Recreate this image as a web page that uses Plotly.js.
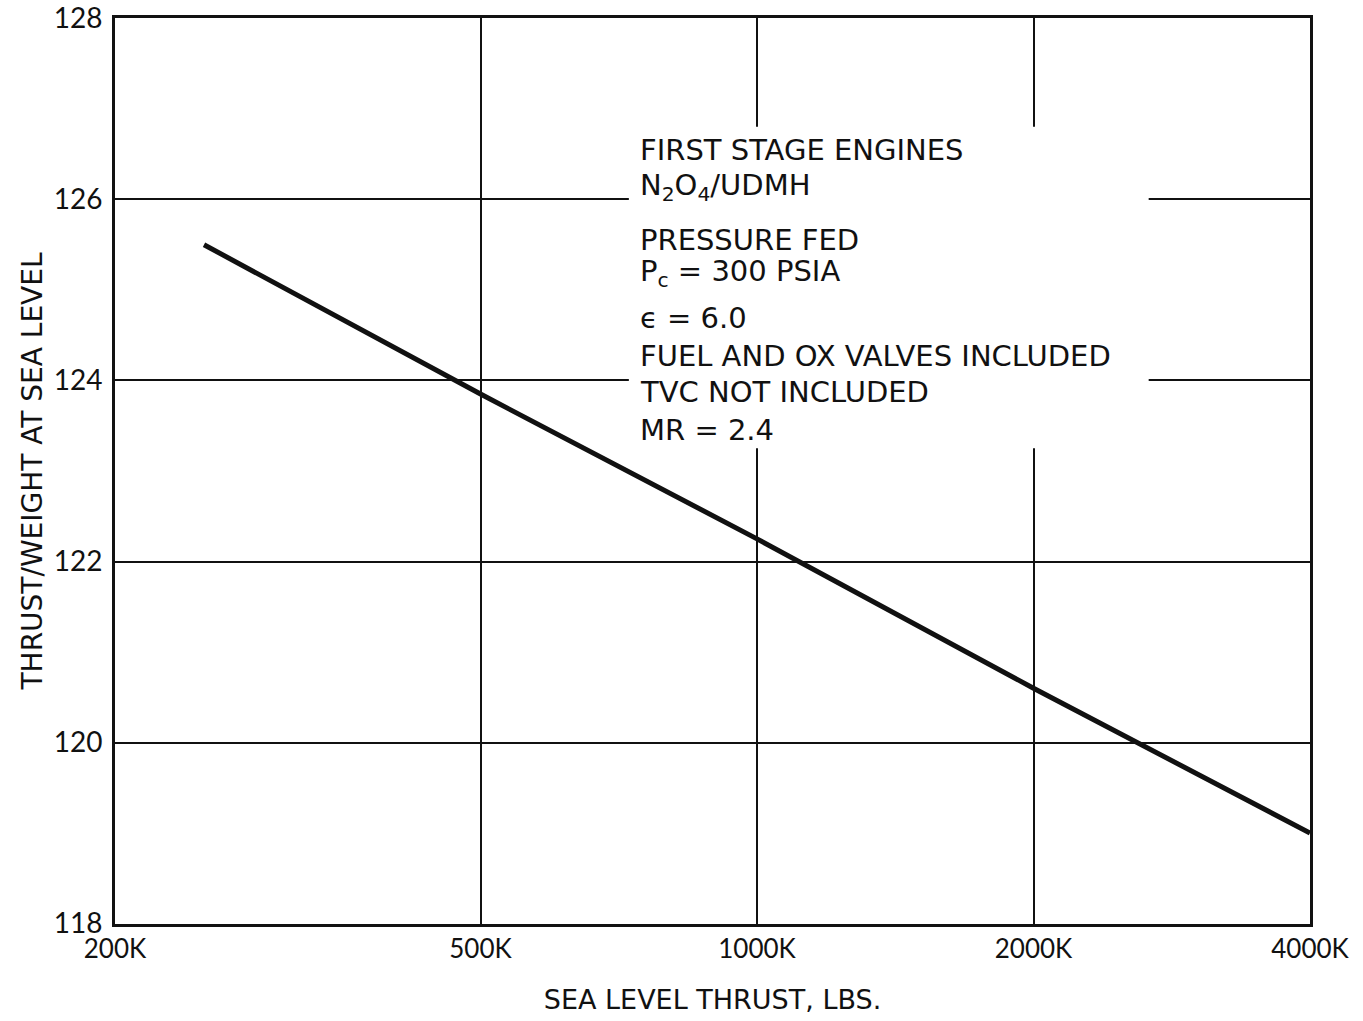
<!DOCTYPE html>
<html>
<head>
<meta charset="utf-8">
<script src="https://cdn.plot.ly/plotly-3.0.1.min.js"></script>
<style>html,body{margin:0;padding:0;background:#fff;}#chart{width:1363px;height:1021px;}</style>
</head>
<body>
<div id="chart"></div>
<script>
// Data (sea level thrust in thousands of lbs)
const thrustK = [250, 500, 1000, 2000, 4000];
const thrustToWeight = [125.5, 123.85, 122.25, 120.6, 119.0];

const xTickVals = [200, 500, 1000, 2000, 4000];
const xTickText = ['200K', '500K', '1000K', '2000K', '4000K'];
const yTickVals = [118, 120, 122, 124, 126, 128];
const yTickText = ['118', '120', '122', '124', '126', '128'];

const noteLines = [
  'FIRST STAGE ENGINES',
  'N<sub>2</sub>O<sub>4</sub>/UDMH',
  'PRESSURE FED',
  'P<sub>c</sub> = 300 PSIA',
  '\u03f5 = 6.0',
  'FUEL AND OX VALVES INCLUDED',
  'TVC NOT INCLUDED',
  'MR = 2.4'
];
const noteY = [0.854, 0.813, 0.755, 0.718, 0.669, 0.627, 0.587, 0.545];

const TICKFONT = 'Lato, "Open Sans", sans-serif';
const TEXTFONT = '"DejaVu Sans", sans-serif';

const trace = {
  x: thrustK,
  y: thrustToWeight,
  type: 'scatter',
  mode: 'lines',
  line: {color: '#111', width: 5},
  hoverinfo: 'skip'
};

const annotations = noteLines.map((t, i) => ({
  text: t,
  xref: 'paper', yref: 'paper',
  x: 0.438, y: noteY[i],
  xanchor: 'left', yanchor: 'middle',
  showarrow: false,
  font: {family: TEXTFONT, size: 29, color: '#111'}
}));

const layout = {
  width: 1363, height: 1021,
  margin: {l: 115, r: 53, t: 18, b: 97},
  paper_bgcolor: '#fff',
  plot_bgcolor: '#fff',
  showlegend: false,
  font: {family: TICKFONT, color: '#111'},
  xaxis: {
    type: 'log',
    range: [Math.log10(200), Math.log10(4000)],
    tickmode: 'array',
    tickvals: xTickVals,
    ticktext: xTickText,
    ticks: '',
    ticklabeloverflow: 'allow',
    showgrid: true,
    gridcolor: '#111',
    gridwidth: 2,
    showline: true,
    linecolor: '#111',
    linewidth: 3,
    mirror: true,
    zeroline: false,
    tickfont: {family: TICKFONT, size: 26, color: '#111'},
    title: {text: 'SEA LEVEL THRUST, LBS.', font: {family: TEXTFONT, size: 27, color: '#111'}, standoff: 27},
    automargin: false
  },
  yaxis: {
    range: [117.995, 128.005],
    tickmode: 'array',
    tickvals: yTickVals,
    ticktext: yTickText,
    ticks: '',
    ticklabelstandoff: 4,
    ticklabeloverflow: 'allow',
    showgrid: true,
    gridcolor: '#111',
    gridwidth: 2,
    showline: true,
    linecolor: '#111',
    linewidth: 3,
    mirror: true,
    zeroline: false,
    tickfont: {family: TICKFONT, size: 28, color: '#111'},
    title: {text: 'THRUST/WEIGHT AT SEA LEVEL', font: {family: TEXTFONT, size: 28, color: '#111'}, standoff: 3},
    automargin: false
  },
  shapes: [{
    type: 'rect', xref: 'paper', yref: 'paper',
    x0: 0.43, x1: 0.865, y0: 0.525, y1: 0.88,
    fillcolor: '#fff', line: {width: 0}, layer: 'above'
  }],
  annotations: annotations
};

Plotly.newPlot('chart', [trace], layout, {displayModeBar: false, staticPlot: true});
</script>
</body>
</html>
